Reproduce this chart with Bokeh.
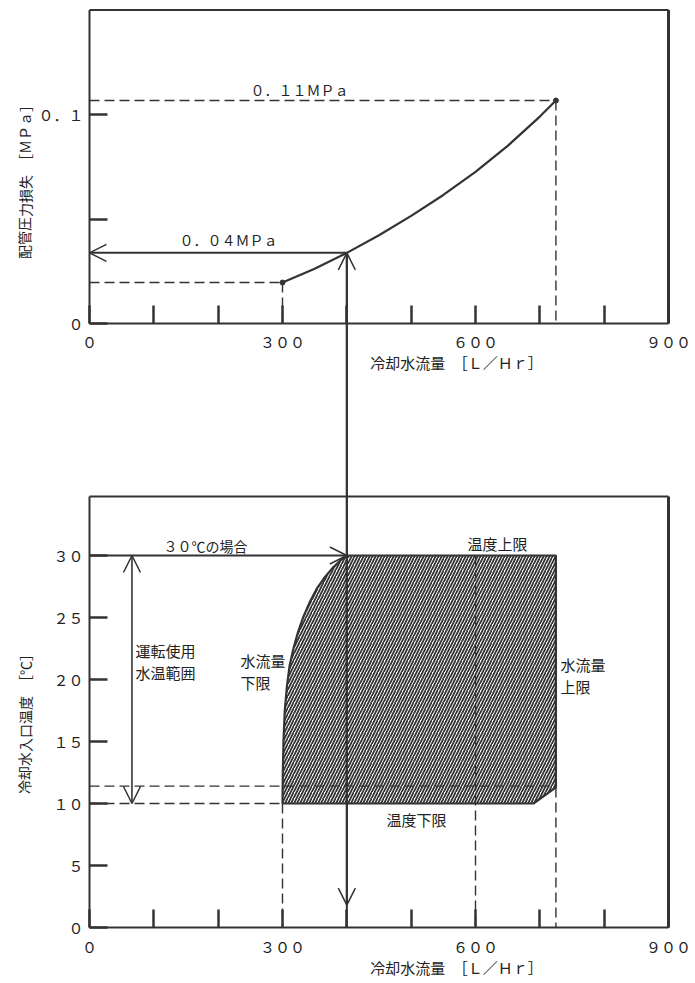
from bokeh.plotting import figure
from bokeh.models import Range1d, LinearAxis, FixedTicker, Arrow, OpenHead
from bokeh.core.properties import value
from bokeh.embed import file_html
from bokeh.resources import INLINE

# ---------------- data ----------------
flow_major_ticks = [0, 300, 600, 900]
flow_minor_ticks = [100, 200, 400, 500, 700, 800]
flow_tick_labels = {0: "０", 300: "３００", 600: "６００", 900: "９００"}

pressure_major_ticks = [0, 0.1]
pressure_minor_ticks = [0.05]
pressure_tick_labels = {0: "０", 0.1: "０．１"}

temp_ticks = [0, 5, 10, 15, 20, 25, 30]
temp_tick_labels = {0: "０", 5: "５", 10: "１０", 15: "１５", 20: "２０", 25: "２５", 30: "３０"}

# pipe pressure loss vs cooling water flow
curve_flow = [300, 350, 400, 450, 500, 550, 600, 650, 700, 725]
curve_pressure = [0.0196, 0.0262, 0.0338, 0.0422, 0.0515, 0.0615, 0.0725, 0.0850, 0.0990, 0.1067]

# operating region (flow, inlet temperature)
region_flow = [300, 300.5, 301.5, 303.5, 307, 311, 317, 324, 332, 342, 353, 365, 378, 390, 400,
               725, 725, 690, 300]
region_temp = [10, 12.5, 15, 17.5, 19.5, 21.1, 22.5, 23.8, 25, 26.2, 27.3, 28.2, 29, 29.6, 30,
               30, 11.3, 10, 10]

flow_min, flow_max, flow_sel, flow_mid = 300, 725, 400, 600
p_min, p_max, p_sel = 0.0196, 0.1067, 0.0338
temp_max, temp_min, temp_min_upper, temp_corner = 30, 10, 11.4, 11.3
range_arrow_flow = 66
arrow_tip_temp = 1.8
flow_axis_max = 900
pressure_axis_max = 0.15
temp_axis_max = 34.75

label_p_max = "０．１１ＭＰａ"
label_p_sel = "０．０４ＭＰａ"
x_title = "冷却水流量　［Ｌ／Ｈｒ］"
y_title_top = "配管圧力損失　［ＭＰａ］"
y_title_bottom = "冷却水入口温度　［℃］"
label_30 = "３０℃の場合"
label_range = "運転使用\n水温範囲"
label_flow_low = "水流量\n下限"
label_flow_high = "水流量\n上限"
label_temp_high = "温度上限"
label_temp_low = "温度下限"

# ---------------- layout (page pixels) ----------------
MARGIN = 0
FIG_W, FIG_H = 694, 982
PX_F0, PX_F900 = 89, 668
TOP_PY0, TOP_PPU = 323, 2090.0
BOT_PY0, BOT_PPU = 927, 12.4
SX = (PX_F900 - PX_F0) / 900.0

def xdat(px):
    return (px - PX_F0) / SX

def top_to_main(v):
    py = TOP_PY0 - TOP_PPU * v
    return (BOT_PY0 - py) / BOT_PPU

def top_y(py):
    return (TOP_PY0 - py) / TOP_PPU

def bot_y(py):
    return (BOT_PY0 - py) / BOT_PPU

x_range = Range1d(xdat(MARGIN), xdat(MARGIN + FIG_W))
y_range = Range1d(bot_y(MARGIN + FIG_H), bot_y(MARGIN))
top_range = Range1d(top_y(MARGIN + FIG_H), top_y(MARGIN))

LINE = "#333333"
TXT = "#222222"
FONT = value("Noto Sans CJK JP")

p = figure(width=FIG_W, height=FIG_H, x_range=x_range, y_range=y_range,
           output_backend="svg", toolbar_location=None,
           x_axis_location=None, y_axis_location=None)
p.min_border_left = 0
p.min_border_right = 0
p.min_border_top = 0
p.min_border_bottom = 0
p.outline_line_color = None
p.xgrid.grid_line_color = None
p.ygrid.grid_line_color = None
p.extra_y_ranges = {"top": top_range}
p.background_fill_color = "white"
p.border_fill_color = "white"

def style_axis(ax, standoff):
    ax.axis_line_color = None
    ax.major_tick_in = 18
    ax.major_tick_out = 0
    ax.minor_tick_in = 18
    ax.minor_tick_out = 0
    ax.major_tick_line_width = 2.5
    ax.minor_tick_line_width = 2.5
    ax.major_tick_line_color = LINE
    ax.minor_tick_line_color = LINE
    ax.major_label_text_font = "Noto Sans CJK JP"
    ax.major_label_text_font_size = "15px"
    ax.major_label_text_color = TXT
    ax.major_label_standoff = standoff

# top x axis
ax_tx = LinearAxis(y_range_name="top", fixed_location=0,
                   ticker=FixedTicker(ticks=flow_major_ticks, minor_ticks=flow_minor_ticks),
                   major_label_overrides=flow_tick_labels)
style_axis(ax_tx, 7)
p.add_layout(ax_tx, "below")

# bottom x axis
ax_bx = LinearAxis(fixed_location=0,
                   ticker=FixedTicker(ticks=flow_major_ticks, minor_ticks=flow_minor_ticks),
                   major_label_overrides=flow_tick_labels)
style_axis(ax_bx, 8)
p.add_layout(ax_bx, "below")

# top y axis
ax_ty = LinearAxis(y_range_name="top", fixed_location=0,
                   ticker=FixedTicker(ticks=pressure_major_ticks, minor_ticks=pressure_minor_ticks),
                   major_label_overrides=pressure_tick_labels)
style_axis(ax_ty, 6)
p.add_layout(ax_ty, "left")

# bottom y axis
ax_by = LinearAxis(fixed_location=0,
                   ticker=FixedTicker(ticks=temp_ticks),
                   major_label_overrides=temp_tick_labels)
style_axis(ax_by, 6)
ax_by.minor_tick_line_color = None
p.add_layout(ax_by, "left")

# panel boxes
for rng_name, top_val in (("top", pressure_axis_max), ("default", temp_axis_max)):
    p.segment(x0=[0, 0, 0], y0=[0, top_val, 0], x1=[flow_axis_max, flow_axis_max, 0],
              y1=[0, top_val, top_val], y_range_name=rng_name, line_color=LINE, line_width=2)
    p.segment(x0=[flow_axis_max], y0=[0], x1=[flow_axis_max], y1=[top_val],
              y_range_name=rng_name, line_color=LINE, line_width=3)

DASH = "10 5"
# ---------- top panel ----------
p.segment(x0=[0, flow_max, 0, flow_min], y0=[p_max, p_max, p_min, p_min],
          x1=[flow_max, flow_max, flow_min, flow_min], y1=[p_max, 0, p_min, 0],
          y_range_name="top", line_color=LINE, line_width=1.4, line_dash=DASH)
p.line(curve_flow, curve_pressure, y_range_name="top", line_color=LINE, line_width=2.2)
p.scatter([curve_flow[0], curve_flow[-1]], [curve_pressure[0], curve_pressure[-1]],
          y_range_name="top", size=5, color=LINE)

head = dict(size=17, line_width=1.5, line_color=LINE)
p.add_layout(Arrow(x_start=flow_sel, y_start=p_sel, x_end=0, y_end=p_sel, y_range_name="top",
                   end=OpenHead(**head), line_color=LINE, line_width=2))

p.text(x=[xdat(299)], y=[top_y(89)], text=[label_p_max], y_range_name="top",
       text_font=FONT, text_font_size="14px", text_color=TXT,
       text_align="center", text_baseline="middle")
p.text(x=[xdat(228)], y=[top_y(239)], text=[label_p_sel], y_range_name="top",
       text_font=FONT, text_font_size="14px", text_color=TXT,
       text_align="center", text_baseline="middle")
p.text(x=[xdat(456)], y=[top_y(362)], text=[x_title], y_range_name="top",
       text_font=FONT, text_font_size="15px", text_color=TXT,
       text_align="center", text_baseline="middle")
p.text(x=[xdat(24)], y=[top_y(178)], text=[y_title_top], y_range_name="top",
       angle=1.5707963, text_font=FONT, text_font_size="14px", text_color=TXT,
       text_align="center", text_baseline="middle")

# ---------- bottom panel ----------
p.patch(region_flow, region_temp, fill_color="white", hatch_pattern="/", hatch_scale=6,
        hatch_weight=1.8, hatch_color=LINE, line_color=LINE, line_width=2.2)

p.segment(x0=[flow_mid, flow_max, flow_min, 0, 0],
          y0=[temp_max, temp_corner, temp_min, temp_min_upper, temp_min],
          x1=[flow_mid, flow_max, flow_min, flow_max, flow_min],
          y1=[0, 0, 0, temp_min_upper, temp_min],
          line_color=LINE, line_width=1.4, line_dash=DASH)

# long vertical connecting line at selected flow
y_sel_main = top_to_main(p_sel)
p.segment(x0=[flow_sel], y0=[0], x1=[flow_sel], y1=[y_sel_main], line_color=LINE, line_width=2)
p.add_layout(Arrow(x_start=flow_sel, y_start=y_sel_main, x_end=flow_sel, y_end=arrow_tip_temp,
                   start=OpenHead(**head), end=OpenHead(**head), line_color=LINE, line_width=2))
# 30 C arrow
p.add_layout(Arrow(x_start=0, y_start=temp_max, x_end=flow_sel, y_end=temp_max,
                   end=OpenHead(**head), line_color=LINE, line_width=2))
# operating range arrow
p.add_layout(Arrow(x_start=range_arrow_flow, y_start=temp_min, x_end=range_arrow_flow, y_end=temp_max,
                   start=OpenHead(**head), end=OpenHead(**head), line_color=LINE, line_width=1.6))

p.text(x=[xdat(205)], y=[bot_y(545)], text=[label_30], text_font=FONT, text_font_size="14px",
       text_color=TXT, text_align="center", text_baseline="middle")
p.text(x=[xdat(497)], y=[bot_y(543)], text=[label_temp_high], text_font=FONT, text_font_size="15px",
       text_color=TXT, text_align="center", text_baseline="middle")
p.text(x=[xdat(416)], y=[bot_y(819)], text=[label_temp_low], text_font=FONT, text_font_size="15px",
       text_color=TXT, text_align="center", text_baseline="middle")
p.text(x=[xdat(135), xdat(240), xdat(560)], y=[bot_y(661), bot_y(671), bot_y(675)],
       text=[label_range, label_flow_low, label_flow_high], text_font=FONT, text_font_size="15px",
       text_color=TXT, text_align="left", text_baseline="middle", text_line_height=1.05)
p.text(x=[xdat(456)], y=[bot_y(967)], text=[x_title], text_font=FONT, text_font_size="15px",
       text_color=TXT, text_align="center", text_baseline="middle")
p.text(x=[xdat(24)], y=[bot_y(720)], text=[y_title_bottom], angle=1.5707963,
       text_font=FONT, text_font_size="14px", text_color=TXT,
       text_align="center", text_baseline="middle")

open("out.html", "w").write(file_html(p, INLINE))
